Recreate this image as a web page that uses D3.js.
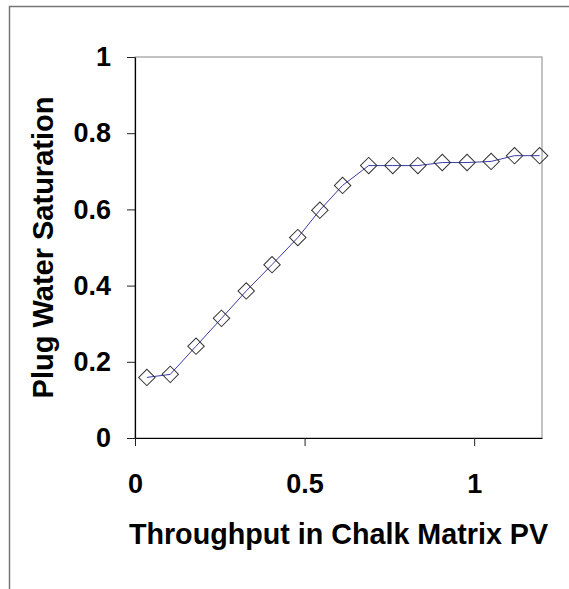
<!DOCTYPE html>
<html>
<head>
<meta charset="utf-8">
<script src="https://cdn.jsdelivr.net/npm/d3@7"></script>
<style>
  body { margin: 0; background: #fff; }
  svg { display: block; }
</style>
</head>
<body>
<svg id="chart"></svg>
<script>
// throughput (PV) and plug water saturation
const pv = [0.035, 0.104, 0.180, 0.255, 0.328, 0.404, 0.480, 0.545, 0.612,
            0.689, 0.760, 0.834, 0.906, 0.979, 1.050, 1.119, 1.193];
const sw = [0.159, 0.167, 0.241, 0.314, 0.386, 0.455, 0.526, 0.598, 0.663,
            0.715, 0.715, 0.715, 0.723, 0.723, 0.726, 0.741, 0.741];
const xTicks = [0, 0.5, 1];
const yTicks = [0, 0.2, 0.4, 0.6, 0.8, 1];
const xTitle = "Throughput in Chalk Matrix PV";
const yTitle = "Plug Water Saturation";

const width = 569, height = 589;
const font = "'Liberation Sans', Arial, sans-serif";

const data = pv.map((d, i) => ({x: d, y: sw[i]}));

const x = d3.scaleLinear([0, 1.2], [135, 542]);
const y = d3.scaleLinear([0, 1], [438, 57]);

const svg = d3.select("#chart")
  .attr("width", width)
  .attr("height", height)
  .attr("viewBox", [0, 0, width, height]);

// outer frame (cropped on right / bottom)
svg.append("rect")
  .attr("x", 9.5).attr("y", 6.5)
  .attr("width", width + 20).attr("height", height + 20)
  .attr("fill", "none")
  .attr("stroke", "#777")
  .attr("stroke-width", 1.5);

// plot area frame
svg.append("rect")
  .attr("x", x(0)).attr("y", y(1))
  .attr("width", x(1.2) - x(0)).attr("height", y(0) - y(1))
  .attr("fill", "none")
  .attr("stroke", "#888")
  .attr("stroke-width", 1);

// axes
const yAxis = svg.append("g")
  .attr("transform", `translate(${x(0)},0)`)
  .call(d3.axisLeft(y).tickValues(yTicks).tickFormat(d3.format("")).tickSize(8).tickSizeOuter(0).tickPadding(16));

const xAxis = svg.append("g")
  .attr("transform", `translate(0,${y(0)})`)
  .call(d3.axisBottom(x).tickValues(xTicks).tickFormat(d3.format("")).tickSize(8).tickSizeOuter(0).tickPadding(28));

[xAxis, yAxis].forEach(g => {
  g.select(".domain").attr("stroke", "#000").attr("stroke-width", 1.2);
  g.selectAll(".tick line").attr("stroke", "#222");
  g.selectAll(".tick text")
    .attr("fill", "#000")
    .style("font-family", font)
    .style("font-weight", "bold")
    .style("font-size", "27px");
});

// line
svg.append("path")
  .datum(data)
  .attr("fill", "none")
  .attr("stroke", "#3b3ba8")
  .attr("stroke-width", 1)
  .attr("d", d3.line().x(d => x(d.x)).y(d => y(d.y)));

// diamond markers
svg.append("g")
  .selectAll("path")
  .data(data)
  .join("path")
  .attr("transform", d => `translate(${x(d.x)},${y(d.y)}) rotate(45)`)
  .attr("d", d3.symbol(d3.symbolSquare, 135))
  .attr("fill", "none")
  .attr("stroke", "#333")
  .attr("stroke-width", 1);

// axis titles
svg.append("text")
  .attr("x", (x(0) + x(1.2)) / 2)
  .attr("y", 544)
  .attr("text-anchor", "middle")
  .style("font-family", font)
  .style("font-weight", "bold")
  .style("font-size", "28.7px")
  .text(xTitle);

svg.append("text")
  .attr("transform", `translate(53,${(y(0) + y(1)) / 2}) rotate(-90)`)
  .attr("text-anchor", "middle")
  .style("font-family", font)
  .style("font-weight", "bold")
  .style("font-size", "29px")
  .text(yTitle);
</script>
</body>
</html>
